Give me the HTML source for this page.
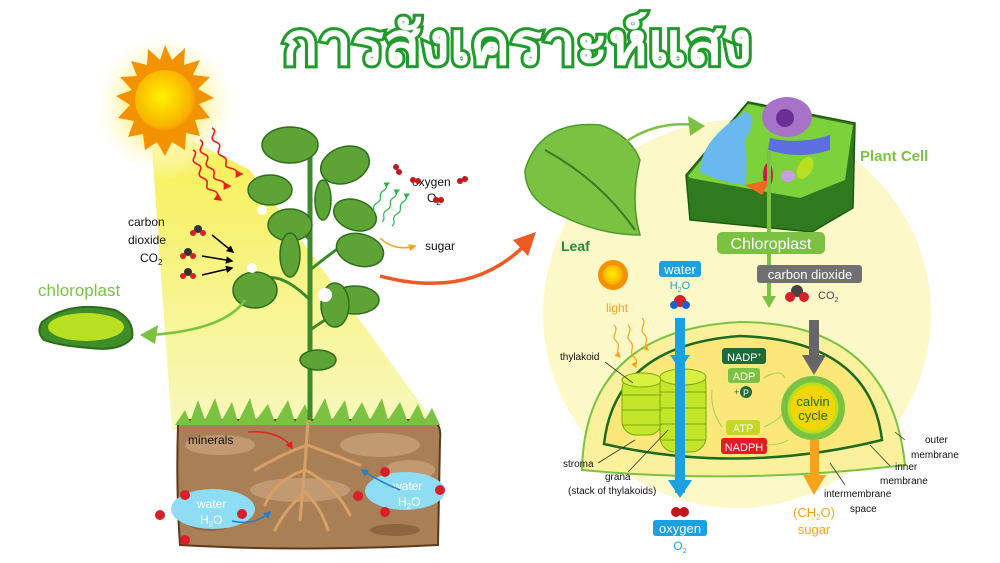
<!DOCTYPE html>
<html><head><meta charset="utf-8"><style>
html,body{margin:0;padding:0;background:#fff;}
svg{display:block;font-family:"Liberation Sans","DejaVu Sans",sans-serif;}
</style></head><body>
<svg width="1000" height="563" viewBox="0 0 1000 563" xmlns="http://www.w3.org/2000/svg">
<defs>
<radialGradient id="glow" cx="0.5" cy="0.5" r="0.5"><stop offset="0.5" stop-color="#fff4a0"/><stop offset="1" stop-color="#fff" stop-opacity="0"/></radialGradient>
<linearGradient id="beam" x1="0" y1="0" x2="0" y2="1"><stop offset="0" stop-color="#f6ee3a"/><stop offset="1" stop-color="#f7f7b8"/></linearGradient>
<radialGradient id="sun" cx="0.45" cy="0.45" r="0.6"><stop offset="0" stop-color="#fff200"/><stop offset="0.8" stop-color="#f9b400"/><stop offset="1" stop-color="#f39200"/></radialGradient>
<marker id="ab" viewBox="0 0 10 10" refX="8" refY="5" markerWidth="5" markerHeight="5" orient="auto"><path d="M0 0L10 5L0 10z" fill="#000"/></marker>
<marker id="ar" viewBox="0 0 10 10" refX="8" refY="5" markerWidth="5" markerHeight="5" orient="auto"><path d="M0 0L10 5L0 10z" fill="#e8201c"/></marker>
<marker id="ag" viewBox="0 0 10 10" refX="8" refY="5" markerWidth="5" markerHeight="5" orient="auto"><path d="M0 0L10 5L0 10z" fill="#2db34a"/></marker>
<marker id="ao" viewBox="0 0 10 10" refX="8" refY="5" markerWidth="5" markerHeight="5" orient="auto"><path d="M0 0L10 5L0 10z" fill="#f7a21b"/></marker>
<marker id="abl" viewBox="0 0 10 10" refX="8" refY="5" markerWidth="5" markerHeight="5" orient="auto"><path d="M0 0L10 5L0 10z" fill="#1f7fc8"/></marker>
</defs>

<!-- left: beam -->
<polygon points="150,120 172,430 440,430 250,170" fill="url(#beam)" opacity="0.9"/>
<circle cx="165" cy="105" r="75" fill="url(#glow)"/>
<g fill="#f39200">
<polygon points="165,45 172,60 185,48 184,65 200,60 193,75 210,77 198,89 214,98 199,104 210,118 195,120 200,136 186,133 185,150 172,142 165,156 157,142 145,150 143,134 128,137 134,121 118,118 130,105 116,96 132,90 120,77 137,76 131,61 147,65 148,49 160,60"/>
</g>
<circle cx="165" cy="100" r="30" fill="url(#sun)"/>
<g fill="none" stroke="#e8201c" stroke-width="1.6">
<path d="M212,128 c8,4 -6,10 4,14 s-4,10 6,14 s-2,10 8,12 s4,6 12,6" marker-end="url(#ar)"/>
<path d="M200,140 c8,4 -6,10 4,14 s-4,10 6,14 s-2,10 8,12 s4,6 12,6" marker-end="url(#ar)"/>
<path d="M193,150 c8,4 -6,10 4,14 s-4,10 6,14 s-2,10 8,12 s4,6 10,10" marker-end="url(#ar)"/>
</g>

<!-- soil -->
<g>
<path d="M178,425 Q175,420 190,420 L430,420 Q442,422 440,440 L438,545 Q300,552 180,545 Q176,490 178,425z" fill="#a97f56" stroke="#5d3a1a" stroke-width="2"/>
<ellipse cx="220" cy="445" rx="35" ry="10" fill="#c19a72"/><ellipse cx="380" cy="445" rx="40" ry="12" fill="#c19a72"/>
<ellipse cx="300" cy="490" rx="50" ry="12" fill="#c19a72"/><ellipse cx="410" cy="470" rx="25" ry="10" fill="#c19a72"/>
<ellipse cx="210" cy="525" rx="20" ry="6" fill="#8c6640"/><ellipse cx="395" cy="530" rx="25" ry="6" fill="#8c6640"/>
</g>
<path d="M175,425 L185,410 L190,422 L198,400 L205,420 L215,398 L222,420 L232,402 L238,422 L250,398 L256,420 L268,404 L275,422 L288,400 L295,422 L305,404 L312,422 L325,398 L332,420 L345,400 L350,422 L362,402 L370,420 L382,398 L388,420 L400,402 L408,422 L418,404 L425,420 L432,408 L440,425z" fill="#7cc242"/>
<g fill="none" stroke="#d9a066" stroke-width="3" stroke-linecap="round">
<path d="M308,420 Q305,470 300,520"/>
<path d="M307,445 Q280,455 255,470"/><path d="M307,445 Q335,455 360,465"/>
<path d="M305,470 Q275,480 265,505"/><path d="M305,470 Q335,485 350,515"/>
<path d="M302,495 Q285,510 275,530"/><path d="M303,490 Q320,505 328,530"/>
</g>
<text x="188" y="444" font-size="12" fill="#111">minerals</text>
<path d="M248,432 Q280,430 292,448" fill="none" stroke="#e8201c" stroke-width="1.5" marker-end="url(#ar)"/>
<ellipse cx="213" cy="509" rx="42" ry="20" fill="#8fdcf5"/>
<text x="197" y="508" font-size="12" fill="#fff">water</text><text x="200" y="524" font-size="12" fill="#fff">H<tspan font-size="8" dy="3">2</tspan><tspan dy="-3">O</tspan></text>
<path d="M232,521 Q255,526 270,512" fill="none" stroke="#1f7fc8" stroke-width="1.5" marker-end="url(#abl)"/>
<ellipse cx="405" cy="491" rx="40" ry="19" fill="#8fdcf5"/>
<text x="393" y="490" font-size="12" fill="#fff">water</text><text x="398" y="506" font-size="12" fill="#fff">H<tspan font-size="8" dy="3">2</tspan><tspan dy="-3">O</tspan></text>
<path d="M400,490 Q380,482 362,470" fill="none" stroke="#1f7fc8" stroke-width="1.5" marker-end="url(#abl)"/>
<g fill="#d9202a"><circle cx="185" cy="495" r="5"/><circle cx="160" cy="515" r="5"/><circle cx="185" cy="540" r="5"/><circle cx="242" cy="514" r="5"/><circle cx="385" cy="472" r="5"/><circle cx="358" cy="496" r="5"/><circle cx="385" cy="512" r="5"/><circle cx="440" cy="490" r="5"/></g>

<!-- plant -->
<path d="M310,420 L310,150" stroke="#3d8a2c" stroke-width="5"/>
<path d="M310,300 Q280,270 260,280 M310,240 Q290,220 275,220 M310,270 Q335,250 350,240 M310,330 Q340,310 355,300" stroke="#3d8a2c" stroke-width="3" fill="none"/>
<g fill="#5ea336" stroke="#2f6e1c" stroke-width="1.5">
<ellipse cx="290" cy="145" rx="28" ry="18"/><ellipse cx="345" cy="165" rx="25" ry="18" transform="rotate(-20 345 165)"/>
<ellipse cx="270" cy="190" rx="22" ry="15"/><ellipse cx="290" cy="225" rx="22" ry="16"/>
<ellipse cx="355" cy="215" rx="22" ry="15" transform="rotate(20 355 215)"/><ellipse cx="255" cy="290" rx="22" ry="18"/>
<ellipse cx="360" cy="250" rx="24" ry="16" transform="rotate(15 360 250)"/><ellipse cx="355" cy="300" rx="24" ry="14"/>
<ellipse cx="335" cy="305" rx="14" ry="22"/><ellipse cx="290" cy="255" rx="10" ry="22"/><ellipse cx="323" cy="200" rx="8" ry="20"/>
<ellipse cx="318" cy="360" rx="18" ry="10"/>
</g>
<g fill="#fff"><circle cx="262" cy="210" r="5"/><circle cx="252" cy="268" r="5"/><circle cx="325" cy="295" r="7"/><circle cx="330" cy="140" r="4"/></g>

<text x="128" y="226" font-size="12" fill="#111">carbon</text>
<text x="128" y="244" font-size="12" fill="#111">dioxide</text>
<text x="140" y="262" font-size="12" fill="#111">CO<tspan font-size="8" dy="3">2</tspan></text>
<g><circle cx="198" cy="229" r="4" fill="#333"/><circle cx="193" cy="233" r="3" fill="#d9202a"/><circle cx="203" cy="233" r="3" fill="#d9202a"/>
<circle cx="188" cy="252" r="4" fill="#333"/><circle cx="183" cy="256" r="3" fill="#d9202a"/><circle cx="193" cy="256" r="3" fill="#d9202a"/>
<circle cx="188" cy="272" r="4" fill="#333"/><circle cx="183" cy="276" r="3" fill="#d9202a"/><circle cx="193" cy="276" r="3" fill="#d9202a"/></g>
<g stroke="#000" stroke-width="1.5"><line x1="212" y1="235" x2="233" y2="252" marker-end="url(#ab)"/><line x1="202" y1="256" x2="232" y2="261" marker-end="url(#ab)"/><line x1="202" y1="275" x2="232" y2="268" marker-end="url(#ab)"/></g>

<!-- chloroplast left -->
<text x="38" y="296" font-size="17" fill="#7cc242">chloroplast</text>
<path d="M42,322 Q70,300 115,310 Q135,320 132,338 Q120,352 90,348 Q60,346 44,340 Q36,332 42,322z" fill="#3e8e27" stroke="#2c6b1a" stroke-width="2"/>
<ellipse cx="86" cy="327" rx="38" ry="14" fill="#b8e021"/>
<path d="M245,300 Q225,330 150,335" stroke="#7cc242" stroke-width="2.5" fill="none"/>
<polygon points="140,335 158,325 155,344" fill="#7cc242"/>

<text x="412" y="186" font-size="12" fill="#111">oxygen</text>
<text x="427" y="202" font-size="12" fill="#111">O<tspan font-size="8" dy="3">2</tspan></text>
<g fill="#c0181e"><circle cx="396" cy="167" r="3"/><circle cx="399" cy="172" r="3"/><circle cx="413" cy="180" r="3"/><circle cx="418" cy="181" r="3"/><circle cx="460" cy="181" r="3"/><circle cx="465" cy="179" r="3"/><circle cx="436" cy="200" r="3"/><circle cx="441" cy="200" r="3"/></g>
<g fill="none" stroke="#2db34a" stroke-width="1.2">
<path d="M372,215 c5,-4 -2,-8 5,-12 s0,-8 6,-12 s2,-6 6,-8" marker-end="url(#ag)"/>
<path d="M382,222 c5,-4 -2,-8 5,-12 s0,-8 6,-12 s2,-6 6,-8" marker-end="url(#ag)"/>
<path d="M392,226 c5,-4 -2,-8 5,-12 s0,-8 6,-12 s2,-6 6,-8" marker-end="url(#ag)"/>
</g>
<text x="425" y="250" font-size="12" fill="#111">sugar</text>
<path d="M380,238 Q395,252 415,246" stroke="#f7a21b" stroke-width="1.5" fill="none" marker-end="url(#ao)"/>
<path d="M380,276 Q470,300 525,245" stroke="#ef5a24" stroke-width="3.5" fill="none"/>
<polygon points="536,232 513,240 528,256" fill="#ef5a24"/>

<!-- title -->
<text x="517" y="64" font-size="58" font-weight="bold" text-anchor="middle" fill="#fff" stroke="#1f9a2b" stroke-width="6" paint-order="stroke" font-family="'Noto Sans CJK SC','DejaVu Sans',sans-serif" textLength="470" lengthAdjust="spacingAndGlyphs">การสังเคราะห์แสง</text>

<!-- right: big circle -->
<circle cx="737" cy="314" r="194" fill="#fdf8c8"/>
<path d="M525,170 Q540,120 600,125 Q630,135 640,160 Q630,200 640,235 Q600,235 560,215 Q525,200 525,170z" fill="#7cc242" stroke="#4a9a2a" stroke-width="1.5"/>
<path d="M545,150 Q600,180 635,230" stroke="#3a7a22" stroke-width="2" fill="none"/>
<text x="561" y="251" font-size="14" font-weight="bold" fill="#1e8a3a">Leaf</text>
<path d="M615,150 Q650,120 695,125" stroke="#7cc242" stroke-width="2.5" fill="none"/>
<polygon points="705,126 688,116 690,136" fill="#7cc242"/>
<polygon points="686,175 748,102 855,123 853,208 812,232 690,220" fill="#2f7a1f" stroke="#1d5a10" stroke-width="1.5"/>
<polygon points="688,176 748,104 853,125 845,180 800,198 690,178" fill="#7dd13a"/>
<path d="M700,172 Q700,140 745,112 Q760,115 745,140 Q748,165 745,185 Q720,182 700,172z" fill="#6ab8f0"/>
<ellipse cx="787" cy="117" rx="25" ry="20" fill="#a673c8"/><circle cx="785" cy="118" r="9" fill="#6a2f93"/>
<path d="M770,138 Q800,145 830,135 L830,150 Q800,160 768,150z" fill="#5c6ee0"/>
<ellipse cx="768" cy="175" rx="5" ry="12" fill="#d01a4a"/><ellipse cx="788" cy="176" rx="7" ry="6" fill="#c8a0e0"/>
<path d="M745,185 L770,180 L762,195z" fill="#f06a20"/>
<ellipse cx="805" cy="168" rx="7" ry="12" fill="#b8e021" transform="rotate(30 805 168)"/>
<text x="860" y="161" font-size="15" font-weight="bold" fill="#7cc242">Plant Cell</text>
<line x1="769" y1="150" x2="769" y2="240" stroke="#7cc242" stroke-width="4"/>
<rect x="717" y="232" width="108" height="22" rx="5" fill="#7cc242"/>
<text x="771" y="249" font-size="16" fill="#fff" text-anchor="middle">Chloroplast</text>
<line x1="769" y1="254" x2="769" y2="300" stroke="#7cc242" stroke-width="4"/>
<polygon points="762,296 776,296 769,308" fill="#7cc242"/>
<rect x="757" y="265" width="105" height="18" rx="3" fill="#707070"/>
<text x="810" y="279" font-size="13" fill="#fff" text-anchor="middle">carbon dioxide</text>
<circle cx="797" cy="291" r="6" fill="#444"/><circle cx="790" cy="297" r="5" fill="#d9202a"/><circle cx="804" cy="297" r="5" fill="#d9202a"/>
<text x="818" y="299" font-size="11" fill="#444">CO<tspan font-size="7" dy="3">2</tspan></text>

<path d="M582,470 Q585,330 740,322 Q890,322 905,465 Q740,485 582,470z" fill="#fbf19c" stroke="#7cc242" stroke-width="2"/>
<path d="M604,444 Q615,345 740,336 Q870,340 882,440 Q740,475 604,444z" fill="#fbe77a" stroke="#1e6a1e" stroke-width="2.5"/>
<g stroke="#7aa80c" stroke-width="1">
<rect x="622" y="375" width="40" height="60" rx="14" fill="#c4e62a"/>
<ellipse cx="642" cy="380" rx="20" ry="7" fill="#d8f040"/>
<rect x="660" y="370" width="46" height="82" rx="15" fill="#c4e62a"/>
<ellipse cx="683" cy="377" rx="23" ry="8" fill="#d8f040"/>
<path d="M622,395 h40 M622,410 h40 M622,425 h40 M660,392 h46 M660,408 h46 M660,424 h46 M660,440 h46" fill="none"/>
</g>
<rect x="675" y="318" width="10" height="130" fill="#1ba1e2"/>
<polygon points="670,355 690,355 680,370" fill="#1ba1e2"/>
<rect x="675" y="448" width="10" height="45" fill="#1ba1e2"/>
<polygon points="668,480 692,480 680,498" fill="#1ba1e2"/>
<rect x="659" y="261" width="42" height="16" rx="3" fill="#1ba1e2"/>
<text x="680" y="274" font-size="13" fill="#fff" text-anchor="middle">water</text>
<text x="680" y="289" font-size="11" fill="#1ba1e2" text-anchor="middle">H<tspan font-size="7" dy="3">2</tspan><tspan dy="-3">O</tspan></text>
<circle cx="680" cy="301" r="6" fill="#d9202a"/><circle cx="674" cy="305" r="4" fill="#1f5fc8"/><circle cx="686" cy="305" r="4" fill="#1f5fc8"/>
<circle cx="613" cy="275" r="15" fill="#f39200"/><circle cx="613" cy="275" r="10" fill="url(#sun)"/>
<text x="606" y="312" font-size="12" fill="#f7a21b">light</text>
<g fill="none" stroke="#f7a21b" stroke-width="1.2">
<path d="M614,325 c6,6 -4,10 2,16 s-2,10 4,16" marker-end="url(#ao)"/>
<path d="M628,325 c6,6 -4,10 2,16 s-2,10 4,16 s0,6 2,10" marker-end="url(#ao)"/>
<path d="M642,318 c6,6 -4,10 2,16 s-2,10 4,16" marker-end="url(#ao)"/>
</g>
<rect x="722" y="348" width="44" height="16" rx="3" fill="#1e6a3a"/>
<text x="744" y="361" font-size="11" fill="#fff" text-anchor="middle">NADP<tspan font-size="6" dy="-4">+</tspan></text>
<rect x="728" y="368" width="32" height="15" rx="3" fill="#7cc242"/>
<text x="744" y="380" font-size="11" fill="#fff" text-anchor="middle">ADP</text>
<circle cx="746" cy="392" r="6" fill="#1e6a3a"/><text x="746" y="396" font-size="9" fill="#fff" text-anchor="middle">P</text>
<text x="734" y="395" font-size="9" fill="#1e6a3a">+</text>
<rect x="726" y="420" width="34" height="15" rx="3" fill="#c4d82a"/>
<text x="743" y="432" font-size="11" fill="#fff" text-anchor="middle">ATP</text>
<rect x="721" y="438" width="46" height="16" rx="3" fill="#e41b23"/>
<text x="744" y="451" font-size="11" fill="#fff" text-anchor="middle">NADPH</text>
<g fill="none" stroke="#9ed05a" stroke-width="1"><path d="M712,390 Q710,410 722,427"/><path d="M764,427 Q780,420 785,410"/><path d="M766,445 Q780,445 788,440"/><path d="M785,378 Q780,368 764,378"/></g>
<rect x="809" y="320" width="10" height="40" fill="#666"/>
<polygon points="802,355 826,355 814,375" fill="#666"/>
<circle cx="813" cy="408" r="32" fill="#7cc242"/>
<circle cx="813" cy="408" r="24" fill="#f2d600" stroke="#b8e021" stroke-width="3"/>
<text x="813" y="406" font-size="13" fill="#1e6a3a" text-anchor="middle">calvin</text>
<text x="813" y="420" font-size="13" fill="#1e6a3a" text-anchor="middle">cycle</text>
<rect x="810" y="440" width="9" height="40" fill="#f7a21b"/>
<polygon points="803,475 826,475 814,495" fill="#f7a21b"/>
<text x="814" y="517" font-size="13" fill="#f7a21b" text-anchor="middle">(CH<tspan font-size="8" dy="3">2</tspan><tspan dy="-3">O)</tspan></text>
<text x="814" y="534" font-size="13" fill="#f7a21b" text-anchor="middle">sugar</text>
<circle cx="676" cy="512" r="5" fill="#c0181e"/><circle cx="684" cy="512" r="5" fill="#c0181e"/>
<rect x="653" y="520" width="54" height="16" rx="3" fill="#1ba1e2"/>
<text x="680" y="533" font-size="13" fill="#fff" text-anchor="middle">oxygen</text>
<text x="680" y="550" font-size="12" fill="#1ba1e2" text-anchor="middle">O<tspan font-size="7" dy="3">2</tspan></text>
<g font-size="10" fill="#111">
<text x="560" y="360">thylakoid</text>
<text x="563" y="467">stroma</text>
<text x="605" y="480">grana</text>
<text x="568" y="494">(stack of thylakoids)</text>
<text x="925" y="443">outer</text><text x="911" y="458">membrane</text>
<text x="895" y="470">inner</text><text x="880" y="484">membrane</text>
<text x="824" y="497">intermembrane</text><text x="850" y="512">space</text>
</g>
<g stroke="#333" stroke-width="0.8">
<line x1="605" y1="362" x2="633" y2="383"/><line x1="598" y1="463" x2="635" y2="440"/>
<line x1="628" y1="472" x2="668" y2="430"/><line x1="905" y1="440" x2="895" y2="432"/>
<line x1="890" y1="466" x2="870" y2="445"/><line x1="845" y1="485" x2="830" y2="463"/>
</g>
</svg>
</body></html>
